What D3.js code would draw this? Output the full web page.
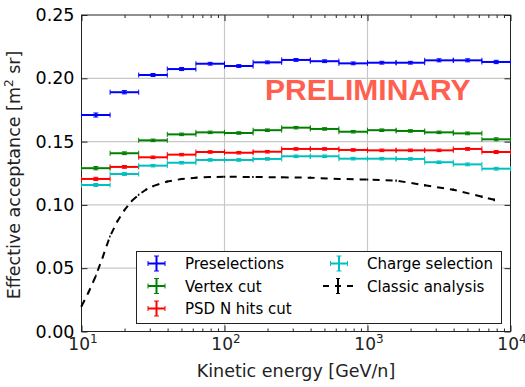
<!DOCTYPE html>
<html>
<head>
<meta charset="utf-8">
<script src="https://d3js.org/d3.v7.min.js"></script>
<style>
body { margin: 0; background: #fff; }
text { font-family: "DejaVu Sans", sans-serif; fill: #000; }
</style>
</head>
<body>
<svg width="525" height="387"></svg>
<script>
// energy bins [GeV/n]
var binLow  = [10, 15.85, 25.12, 39.81, 63.1, 100, 158.5, 251.2, 398.1, 631, 1000, 1585, 2512, 3981, 6310];
var binHigh = [15.85, 25.12, 39.81, 63.1, 100, 158.5, 251.2, 398.1, 631, 1000, 1585, 2512, 3981, 6310, 10000];

var preselections = [0.171, 0.189, 0.2026, 0.2073, 0.2115, 0.2097, 0.2126, 0.2145, 0.2135, 0.2118, 0.2123, 0.2123, 0.2142, 0.2142, 0.2129];
var vertexCut     = [0.129, 0.1408, 0.151, 0.1557, 0.1573, 0.1568, 0.159, 0.161, 0.160, 0.1578, 0.159, 0.1584, 0.1573, 0.1565, 0.1518];
var psdHits       = [0.1205, 0.130, 0.1376, 0.1397, 0.1418, 0.1412, 0.142, 0.1442, 0.1442, 0.1434, 0.1431, 0.1431, 0.1431, 0.1442, 0.1418];
var chargeSel     = [0.1157, 0.1244, 0.131, 0.1333, 0.1355, 0.1355, 0.1363, 0.1384, 0.1384, 0.1365, 0.1365, 0.1363, 0.1337, 0.132, 0.1286];

var errPre    = [0.0016, 0.0013, 0.0012, 0.0012, 0.0011, 0.0011, 0.0011, 0.0011, 0.0011, 0.0011, 0.0011, 0.0011, 0.0012, 0.0012, 0.0013];
var errVertex = [0.0013, 0.0011, 0.0010, 0.0010, 0.0010, 0.0010, 0.0010, 0.0010, 0.0010, 0.0010, 0.0010, 0.0010, 0.0010, 0.0011, 0.0012];
var errPsd    = [0.0013, 0.0011, 0.0010, 0.0010, 0.0010, 0.0010, 0.0010, 0.0010, 0.0010, 0.0010, 0.0010, 0.0010, 0.0010, 0.0011, 0.0012];
var errCharge = [0.0012, 0.0011, 0.0010, 0.0010, 0.0010, 0.0010, 0.0010, 0.0010, 0.0010, 0.0010, 0.0010, 0.0010, 0.0010, 0.0011, 0.0011];

// classic analysis curve
var classicE = [10, 11.2, 12.6, 14.1, 15.8, 17.8, 20, 22.4, 25.1, 28.2, 31.6, 39.8, 50.1, 63.1, 79.4, 100, 158, 251, 398, 631, 1000, 1585, 2512, 3981, 6310, 7700];
var classicV = [0.020, 0.031, 0.044, 0.059, 0.075, 0.087, 0.096, 0.103, 0.108, 0.112, 0.1148, 0.1185, 0.1205, 0.1215, 0.122, 0.1222, 0.1221, 0.1218, 0.1215, 0.1205, 0.120, 0.1192, 0.1155, 0.112, 0.1065, 0.104];
var classicErr = [0.0008, 0.0008, 0.0008, 0.0008, 0.0008, 0.0008, 0.0008, 0.0008, 0.0008, 0.0008, 0.0008, 0.0008, 0.0008, 0.0008, 0.0008, 0.0008, 0.0008, 0.0008, 0.0008, 0.0008, 0.0008, 0.0009, 0.0009, 0.001, 0.001, 0.0011];

var xMajor = [10, 100, 1000, 10000];
var yTicks = [0, 0.05, 0.10, 0.15, 0.20, 0.25];

var series = [
  {name: "Preselections", vals: preselections, err: errPre, color: "#0000ff"},
  {name: "Vertex cut", vals: vertexCut, err: errVertex, color: "#008000"},
  {name: "PSD N hits cut", vals: psdHits, err: errPsd, color: "#ff0000"},
  {name: "Charge selection", vals: chargeSel, err: errCharge, color: "#00bfbf"}
];

var svg = d3.select("svg");
var pLeft = 81.5, pRight = 510.5, pTop = 15, pBottom = 331.5;

var x = d3.scaleLog().domain([10, 10000]).range([pLeft, pRight]);
var y = d3.scaleLinear().domain([0, 0.25]).range([pBottom, pTop]);

var xMinor = [];
xMajor.slice(0, 3).forEach(function(d) {
  for (var k = 2; k < 10; k++) xMinor.push(d * k);
});

// grid
var grid = svg.append("g").attr("stroke", "#c8c8c8").attr("stroke-width", 1.2);
grid.selectAll(".gx").data(xMajor.slice(1, 3)).enter().append("line")
  .attr("x1", d => x(d)).attr("x2", d => x(d)).attr("y1", pTop).attr("y2", pBottom);
grid.selectAll(".gy").data(yTicks.slice(1, 5)).enter().append("line")
  .attr("x1", pLeft).attr("x2", pRight).attr("y1", d => y(d)).attr("y2", d => y(d));

// axes with inward ticks on all four sides
svg.append("g").attr("transform", "translate(0," + pBottom + ")")
  .call(d3.axisBottom(x).tickValues(xMajor).tickSizeInner(-6).tickSizeOuter(0).tickFormat(""));
svg.append("g").attr("transform", "translate(0," + pBottom + ")")
  .call(d3.axisBottom(x).tickValues(xMinor).tickSizeInner(-3).tickSizeOuter(0).tickFormat(""));
svg.append("g").attr("transform", "translate(0," + pTop + ")")
  .call(d3.axisTop(x).tickValues(xMajor).tickSizeInner(-6).tickSizeOuter(0).tickFormat(""));
svg.append("g").attr("transform", "translate(0," + pTop + ")")
  .call(d3.axisTop(x).tickValues(xMinor).tickSizeInner(-3).tickSizeOuter(0).tickFormat(""));
var axL = svg.append("g").attr("transform", "translate(" + pLeft + ",0)")
  .call(d3.axisLeft(y).tickValues(yTicks).tickSizeInner(-6).tickSizeOuter(0).tickPadding(7).tickFormat(d3.format(".2f")));
svg.append("g").attr("transform", "translate(" + pRight + ",0)")
  .call(d3.axisRight(y).tickValues(yTicks).tickSizeInner(-6).tickSizeOuter(0).tickFormat(""));
svg.selectAll(".domain").remove();
svg.selectAll(".tick line").attr("stroke", "#222");
axL.selectAll("text").style("font-size", "17.5px").attr("font-family", "DejaVu Sans").attr("fill", "#222");

// x tick labels as 10^n
xMajor.forEach(function(d) {
  var t = svg.append("text").attr("x", x(d) + 1.5).attr("y", 350)
    .attr("text-anchor", "middle").style("font-size", "17px").style("fill", "#222");
  t.append("tspan").text("10");
  t.append("tspan").attr("dy", -7).style("font-size", "12px").text(Math.round(Math.log10(d)));
});

// frame
svg.append("rect").attr("x", pLeft).attr("y", pTop).attr("width", pRight - pLeft).attr("height", pBottom - pTop)
  .attr("fill", "none").attr("stroke", "#222").attr("stroke-width", 1);

// binned series: horizontal bar over the bin, vertical stat error
var cap = 2.5;
series.forEach(function(s) {
  var g = svg.append("g").attr("stroke", s.color).attr("stroke-width", 2);
  var bins = s.vals.map(function(v, i) {
    return {lo: binLow[i], hi: binHigh[i], c: Math.sqrt(binLow[i] * binHigh[i]), v: v, e: s.err[i]};
  });
  g.selectAll(".h").data(bins).enter().append("line")
    .attr("x1", d => x(d.lo)).attr("x2", d => x(d.hi)).attr("y1", d => y(d.v)).attr("y2", d => y(d.v));
  g.selectAll(".hc").data(bins.flatMap(d => [{px: d.lo, v: d.v}, {px: d.hi, v: d.v}])).enter().append("line")
    .attr("stroke-width", 1)
    .attr("x1", d => x(d.px)).attr("x2", d => x(d.px)).attr("y1", d => y(d.v) - cap).attr("y2", d => y(d.v) + cap);
  g.selectAll(".v").data(bins).enter().append("line")
    .attr("x1", d => x(d.c)).attr("x2", d => x(d.c)).attr("y1", d => y(d.v - d.e)).attr("y2", d => y(d.v + d.e));
  g.selectAll(".vc").data(bins.flatMap(d => [d.v - d.e, d.v + d.e].map(w => ({c: d.c, w: w})))).enter().append("line")
    .attr("stroke-width", 1)
    .attr("x1", d => x(d.c) - cap).attr("x2", d => x(d.c) + cap).attr("y1", d => y(d.w)).attr("y2", d => y(d.w));
});

// classic analysis: cut the polyline into 7px dashes with 6px gaps
var classic = classicE.map(function(e, i) { return {e: e, v: classicV[i], err: classicErr[i]}; });
var dashOn = 7, dashOff = 6, cycle = dashOn + dashOff;
var dashes = [], phase = 0;
for (var i = 0; i < classic.length - 1; i++) {
  var ax = x(classic[i].e), ay = y(classic[i].v), bx = x(classic[i + 1].e), by = y(classic[i + 1].v);
  var len = Math.hypot(bx - ax, by - ay), t = 0;
  while (t < len - 1e-6) {
    var on = phase < dashOn;
    var step = Math.min((on ? dashOn : cycle) - phase, len - t);
    if (on) {
      dashes.push({x1: ax + (bx - ax) * t / len, y1: ay + (by - ay) * t / len,
                   x2: ax + (bx - ax) * (t + step) / len, y2: ay + (by - ay) * (t + step) / len});
    }
    t += step;
    phase = (phase + step) % cycle;
  }
}
svg.append("g").attr("stroke", "#000").attr("stroke-width", 2)
  .selectAll("line").data(dashes).enter().append("line")
  .attr("x1", d => d.x1).attr("y1", d => d.y1).attr("x2", d => d.x2).attr("y2", d => d.y2);
svg.append("g").attr("stroke", "#000").attr("stroke-width", 1.5)
  .selectAll("line").data(classic).enter().append("line")
  .attr("x1", d => x(d.e)).attr("x2", d => x(d.e)).attr("y1", d => y(d.v - d.err)).attr("y2", d => y(d.v + d.err));

// watermark
svg.append("text").attr("x", 265).attr("y", 100)
  .style("font-family", "'Liberation Sans', Arial, sans-serif").style("font-weight", "bold").style("font-size", "30px")
  .style("fill", "#ff5f4f").text("PRELIMINARY");

// legend
var lg = svg.append("g");
lg.append("rect").attr("x", 136.5).attr("y", 251.5).attr("width", 365).attr("height", 72)
  .attr("fill", "#fff").attr("stroke", "#222").attr("stroke-width", 1);
var legendItems = [
  {s: series[0], cx: 156.5, cy: 263.5, tx: 185},
  {s: series[1], cx: 156.5, cy: 286, tx: 185},
  {s: series[2], cx: 156.5, cy: 308.5, tx: 185},
  {s: series[3], cx: 339, cy: 263.5, tx: 367}
];
legendItems.forEach(function(it) {
  var g = lg.append("g").attr("stroke", it.s.color);
  g.append("line").attr("stroke-width", 2).attr("x1", it.cx - 8.5).attr("x2", it.cx + 8.5).attr("y1", it.cy).attr("y2", it.cy);
  g.append("line").attr("stroke-width", 2).attr("x1", it.cx).attr("x2", it.cx).attr("y1", it.cy - 7.5).attr("y2", it.cy + 7.5);
  [-8.5, 8.5].forEach(function(o) {
    g.append("line").attr("stroke-width", 1).attr("x1", it.cx + o).attr("x2", it.cx + o).attr("y1", it.cy - cap).attr("y2", it.cy + cap);
  });
  [-7.5, 7.5].forEach(function(o) {
    g.append("line").attr("stroke-width", 1).attr("x1", it.cx - cap).attr("x2", it.cx + cap).attr("y1", it.cy + o).attr("y2", it.cy + o);
  });
  lg.append("text").attr("x", it.tx).attr("y", it.cy + 5.5).style("font-size", "15px").text(it.s.name);
});
// classic legend entry
var cg = lg.append("g").attr("stroke", "#000");
cg.append("line").attr("x1", 323).attr("x2", 329).attr("y1", 286).attr("y2", 286).attr("stroke-width", 2);
cg.append("line").attr("x1", 335).attr("x2", 341).attr("y1", 286).attr("y2", 286).attr("stroke-width", 2);
cg.append("line").attr("x1", 347).attr("x2", 353).attr("y1", 286).attr("y2", 286).attr("stroke-width", 2);
cg.append("line").attr("x1", 338).attr("x2", 338).attr("y1", 278.5).attr("y2", 293.5).attr("stroke-width", 2);
[278.5, 293.5].forEach(function(yy) {
  cg.append("line").attr("x1", 336).attr("x2", 340).attr("y1", yy).attr("y2", yy).attr("stroke-width", 1);
});
lg.append("text").attr("x", 367).attr("y", 291.5).style("font-size", "15px").text("Classic analysis");

// axis titles
svg.append("text").attr("x", 296).attr("y", 377).attr("text-anchor", "middle")
  .style("font-size", "17.5px").style("fill", "#222").text("Kinetic energy [GeV/n]");
var yl = svg.append("text").attr("transform", "translate(20,175) rotate(-90)").attr("text-anchor", "middle")
  .style("font-size", "17.5px").style("fill", "#222");
yl.append("tspan").text("Effective acceptance [m");
yl.append("tspan").attr("dy", -7).style("font-size", "12px").text("2");
yl.append("tspan").attr("dy", 7).text(" sr]");
</script>
</body>
</html>
